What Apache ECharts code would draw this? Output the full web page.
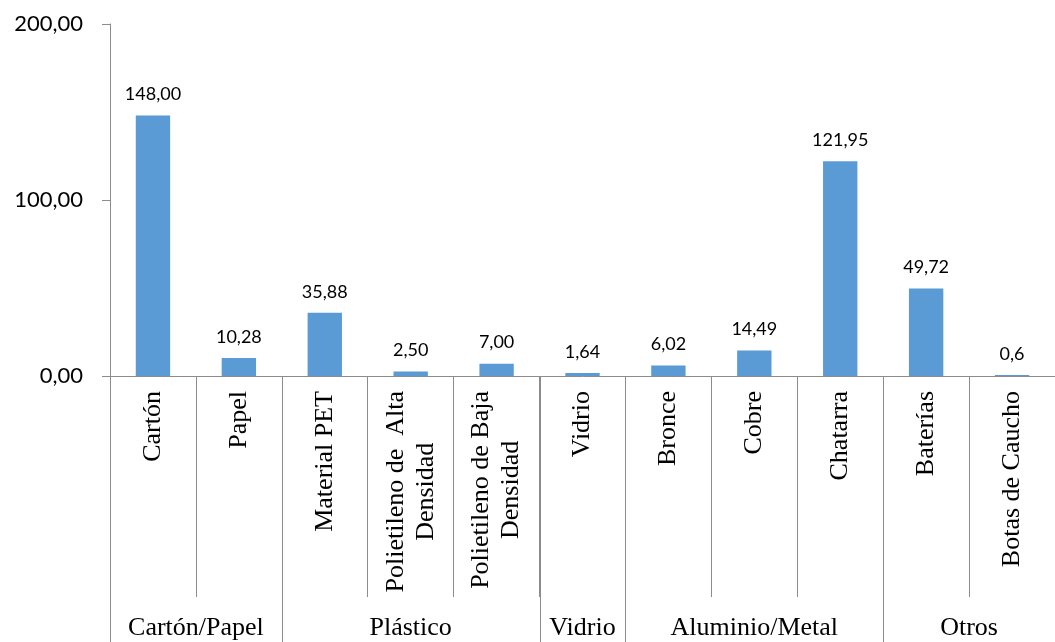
<!DOCTYPE html>
<html>
<head>
<meta charset="utf-8">
<script src="https://cdn.jsdelivr.net/npm/echarts@6/dist/echarts.min.js"></script>
<style>
  html, body { margin: 0; padding: 0; background: #ffffff; }
  #chart { width: 1055px; height: 642px; }
</style>
</head>
<body>
<div id="chart"></div>
<script>
// Materials (one bar each), in display order
const categories = [
  'Cartón', 'Papel', 'Material PET', 'Polietileno de  Alta\nDensidad',
  'Polietileno de Baja\nDensidad', 'Vidrio', 'Bronce', 'Cobre',
  'Chatarra', 'Baterías', 'Botas de Caucho'
];
// Quantities as printed above each bar
const valueLabels = [
  '148,00', '10,28', '35,88', '2,50', '7,00', '1,64',
  '6,02', '14,49', '121,95', '49,72', '0,6'
];
const values = valueLabels.map(s => parseFloat(s.replace(',', '.')));

// Material groups and how many bars each one covers
const groupNames = ['Cartón/Papel', 'Plástico', 'Vidrio', 'Aluminio/Metal', 'Otros'];
const groupSizes = [2, 3, 1, 3, 2];

// Value axis range
const yMin = 0;
const yMax = 200;
const yStep = 100;

const groupSpans = [];
let acc = 0;
groupSizes.forEach(n => { groupSpans.push([acc, acc + n]); acc += n; });

const AXIS_GRAY = '#8c8c8c';
const BAR_BLUE = '#5b9bd5';
const SERIF = 'Liberation Serif';
const SANS = 'Lato';

const fmt = v => v.toFixed(2).replace('.', ',');

const chart = echarts.init(document.getElementById('chart'), null, { renderer: 'canvas' });

chart.setOption({
  animation: false,
  backgroundColor: '#ffffff',
  grid: { left: 110, right: -10, top: 24, bottom: 266, containLabel: false },
  xAxis: [
    {
      type: 'category',
      data: categories,
      boundaryGap: true,
      axisLine: { show: true, lineStyle: { color: AXIS_GRAY, width: 1 } },
      axisTick: { show: true, interval: 0, length: 221, alignWithLabel: false,
                  lineStyle: { color: AXIS_GRAY, width: 1 } },
      axisLabel: {
        interval: 0,
        rotate: 90,
        margin: 15,
        fontFamily: SERIF,
        fontSize: 26,
        color: '#000',
        formatter: v => v.split('\n').map(l => '{c|' + l + '}').join('\n'),
        rich: {
          c: { fontFamily: SERIF, fontSize: 26, lineHeight: 30, color: '#000', align: 'center' }
        }
      },
      splitLine: { show: false }
    },
    {
      type: 'value',
      min: 0,
      max: categories.length,
      show: false
    }
  ],
  yAxis: {
    type: 'value',
    min: yMin,
    max: yMax,
    interval: yStep,
    axisLine: { show: true, lineStyle: { color: AXIS_GRAY, width: 1 } },
    axisTick: { show: true, length: 8, lineStyle: { color: AXIS_GRAY, width: 1 } },
    axisLabel: {
      margin: 27,
      color: '#000',
      fontFamily: SANS,
      fontSize: 22,
      formatter: fmt
    },
    splitLine: { show: false }
  },
  series: [
    {
      type: 'bar',
      data: values,
      barWidth: '40%',
      itemStyle: { color: BAR_BLUE },
      label: {
        show: true,
        position: 'top',
        distance: 12,
        color: '#000',
        fontFamily: SANS,
        fontSize: 18,
        formatter: p => valueLabels[p.dataIndex]
      }
    },
    {
      // group separators and group names under the category labels
      type: 'custom',
      xAxisIndex: 1,
      yAxisIndex: 0,
      clip: false,
      silent: true,
      data: groupSpans,
      encode: { x: [0, 1] },
      renderItem: (params, api) => {
        const a = api.coord([api.value(0), 0]);
        const b = api.coord([api.value(1), 0]);
        const h = api.getHeight();
        const xa = Math.round(a[0]) + 0.5;
        const xb = Math.round(b[0]) + 0.5;
        const ls = { stroke: AXIS_GRAY, lineWidth: 1 };
        return {
          type: 'group',
          children: [
            { type: 'line', shape: { x1: xa, y1: a[1], x2: xa, y2: h }, style: ls },
            { type: 'line', shape: { x1: xb, y1: b[1], x2: xb, y2: h }, style: ls },
            {
              type: 'text',
              x: (a[0] + b[0]) / 2,
              y: h - 14,
              style: {
                text: groupNames[params.dataIndex],
                fontFamily: SERIF,
                fontSize: 26,
                fill: '#000',
                align: 'center',
                verticalAlign: 'middle'
              }
            }
          ]
        };
      }
    }
  ]
});
</script>
</body>
</html>
